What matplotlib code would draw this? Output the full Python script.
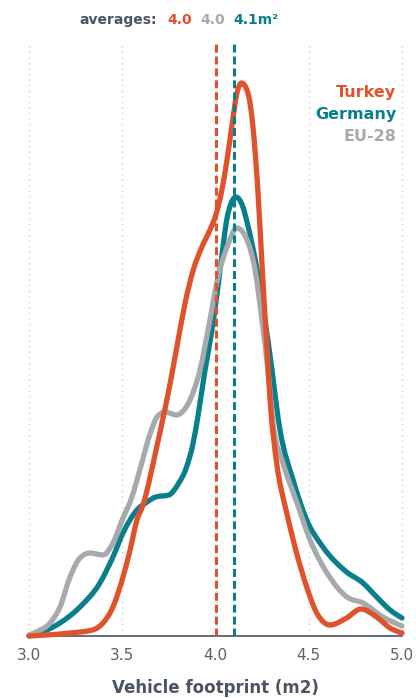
import matplotlib.pyplot as plt
import numpy as np
from matplotlib.path import Path
from matplotlib.patches import PathPatch

# vehicle footprint (m2) vs. share of new cars (arbitrary density units)
turkey_x = [3.00, 3.22, 3.34, 3.397, 3.45, 3.504, 3.542, 3.579, 3.611, 3.685, 3.756, 3.79,
            3.836, 3.879, 3.927, 3.97, 4.00, 4.03, 4.06, 4.087, 4.115, 4.14, 4.174, 4.201,
            4.228, 4.248, 4.275, 4.295, 4.328, 4.382, 4.435, 4.489, 4.543, 4.614, 4.703,
            4.78, 4.864, 4.936, 5.00]
turkey_y = [0.00, 0.03, 0.06, 0.13, 0.29, 0.59, 0.86, 1.16, 1.31, 1.89, 2.52, 2.86,
            3.32, 3.65, 3.89, 4.06, 4.20, 4.42, 4.74, 5.09, 5.43, 5.53, 5.43, 5.09,
            4.43, 3.76, 2.90, 2.30, 1.73, 1.23, 0.83, 0.49, 0.23, 0.11, 0.18,
            0.27, 0.19, 0.08, 0.03]

germany_x = [3.00, 3.02, 3.166, 3.273, 3.38, 3.45, 3.504, 3.579, 3.633, 3.68, 3.75, 3.80,
             3.843, 3.879, 3.906, 3.944, 3.981, 4.013, 4.040, 4.06, 4.08, 4.11, 4.145,
             4.169, 4.223, 4.265, 4.303, 4.335, 4.346, 4.416, 4.489, 4.576, 4.703, 4.791,
             4.864, 4.936, 5.00]
germany_y = [0.00, 0.01, 0.13, 0.29, 0.53, 0.79, 1.03, 1.26, 1.34, 1.39, 1.41, 1.52,
             1.68, 1.92, 2.20, 2.66, 3.06, 3.49, 3.89, 4.16, 4.31, 4.39, 4.30,
             4.14, 3.66, 3.16, 2.66, 2.19, 2.06, 1.56, 1.16, 0.89, 0.64, 0.53,
             0.39, 0.26, 0.18]

eu28_x = [3.00, 3.05, 3.113, 3.166, 3.22, 3.273, 3.327, 3.397, 3.45, 3.504, 3.55, 3.60,
          3.649, 3.69, 3.73, 3.79, 3.815, 3.863, 3.917, 3.97, 4.013, 4.062, 4.115, 4.169,
          4.212, 4.249, 4.281, 4.31, 4.362, 4.437, 4.507, 4.598, 4.705, 4.791, 4.898, 5.00]
eu28_y = [0.01, 0.05, 0.13, 0.29, 0.59, 0.78, 0.83, 0.81, 0.93, 1.18, 1.38, 1.70,
          2.02, 2.20, 2.24, 2.21, 2.23, 2.36, 2.66, 3.16, 3.59, 3.89, 4.08, 3.96,
          3.66, 3.16, 2.66, 2.10, 1.73, 1.33, 0.96, 0.63, 0.39, 0.33, 0.19, 0.10]

avg_turkey = 4.0
avg_eu28 = 4.0
avg_germany = 4.1

ticks = [3.0, 3.5, 4.0, 4.5, 5.0]

RED = "#e0522c"
TEAL = "#0a7f8c"
GRAY = "#a7a9ac"
DARK = "#4a5561"


def smooth_path(xs, ys):
    # monotone cubic curve through the points (like d3.curveMonotoneX)
    x = np.asarray(xs, float)
    y = np.asarray(ys, float)
    h = np.diff(x)
    s = np.diff(y) / h
    m = np.zeros_like(y)
    for i in range(1, len(x) - 1):
        p = (s[i - 1] * h[i] + s[i] * h[i - 1]) / (h[i - 1] + h[i])
        m[i] = (np.sign(s[i - 1]) + np.sign(s[i])) * min(abs(s[i - 1]), abs(s[i]), 0.5 * abs(p))
    m[0] = (3 * s[0] - m[1]) / 2
    m[-1] = (3 * s[-1] - m[-2]) / 2
    verts = [(x[0], y[0])]
    codes = [Path.MOVETO]
    for i in range(len(x) - 1):
        d = h[i] / 3
        verts += [(x[i] + d, y[i] + m[i] * d), (x[i + 1] - d, y[i + 1] - m[i + 1] * d), (x[i + 1], y[i + 1])]
        codes += [Path.CURVE4] * 3
    return Path(verts, codes)


W, H = 416, 698
fig = plt.figure(figsize=(W / 100, H / 100), dpi=100)
ax = fig.add_axes([29 / W, 62 / H, (402 - 29) / W, (636 - 42) / H])

for t in ticks:
    ax.axvline(t, color="#cfcfcf", lw=1, ls=(0, (1, 3)), zorder=0, clip_on=False)

for xs, ys, c, z in [(germany_x, germany_y, TEAL, 2), (eu28_x, eu28_y, GRAY, 3), (turkey_x, turkey_y, RED, 4)]:
    ax.add_patch(PathPatch(smooth_path(xs, ys), fill=False, edgecolor=c, lw=3.8,
                           capstyle="round", joinstyle="round", clip_on=False, zorder=z))

ax.axvline(avg_turkey, color=RED, lw=2.2, ls=(0, (2.6, 1.3)), zorder=5)
ax.axvline(avg_germany, color=TEAL, lw=2.2, ls=(0, (2.6, 1.3)), zorder=5)

ax.set_xlim(3.0, 5.0)
ax.set_ylim(0, 5.94)
ax.set_xticks(ticks)
ax.set_xticklabels([f"{t:.1f}" for t in ticks])
ax.set_yticks([])
ax.tick_params(axis="x", length=0, pad=8.5, labelsize=11, labelcolor="#59626b")
for s in ["top", "right", "left"]:
    ax.spines[s].set_visible(False)
ax.spines["bottom"].set_color(DARK)
ax.spines["bottom"].set_linewidth(1.2)
ax.set_xlabel("Vehicle footprint (m2)", fontsize=12, fontweight="bold", color=DARK, labelpad=12)

# averages header
ty = 1 - 24 / H
fig.text(79 / W, ty, "averages:", fontsize=10, fontweight="bold", color=DARK, va="baseline")
fig.text(167 / W, ty, f"{avg_turkey:.1f}", fontsize=10, fontweight="bold", color=RED, va="baseline")
fig.text(200 / W, ty, f"{avg_eu28:.1f}", fontsize=10, fontweight="bold", color=GRAY, va="baseline")
fig.text(233 / W, ty, f"{avg_germany:.1f}m²", fontsize=10, fontweight="bold", color=TEAL, va="baseline")

# series labels
fig.text(396 / W, 1 - 96.7 / H, "Turkey", fontsize=11.5, fontweight="bold", color=RED, ha="right", va="baseline")
fig.text(396 / W, 1 - 119.3 / H, "Germany", fontsize=11.5, fontweight="bold", color=TEAL, ha="right", va="baseline")
fig.text(396 / W, 1 - 141 / H, "EU-28", fontsize=11.5, fontweight="bold", color=GRAY, ha="right", va="baseline")

fig.savefig("out.png", dpi=100)
